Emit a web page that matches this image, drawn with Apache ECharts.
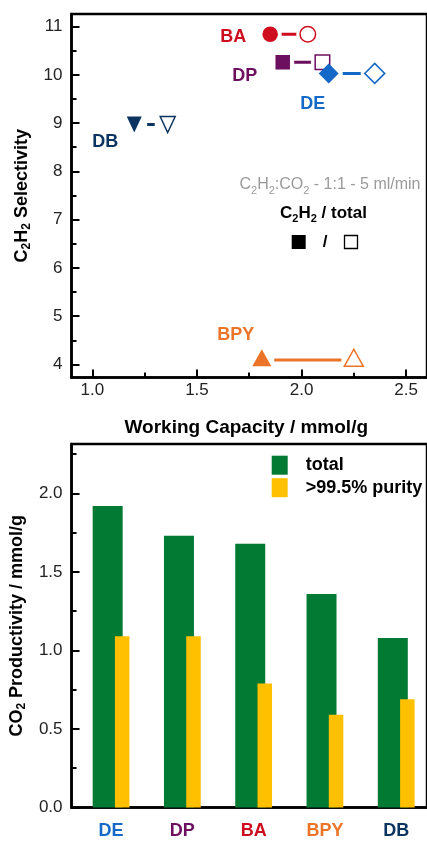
<!DOCTYPE html>
<html>
<head>
<meta charset="utf-8">
<script src="https://cdn.jsdelivr.net/npm/echarts@6/dist/echarts.min.js"></script>
<style>
  html, body { margin: 0; padding: 0; background: #fff; }
  #chart { width: 427px; height: 841px; }
</style>
</head>
<body>
<div id="chart"></div>
<script>
// ---- Top panel: C2H2 selectivity vs. working capacity ----
const materials = ['BA', 'DP', 'DE', 'DB', 'BPY'];
const capacityC2H2 = [1.85, 1.91, 2.13, 1.20, 1.81];
const capacityTotal = [2.03, 2.10, 2.35, 1.36, 2.25];
const selectivity = [10.84, 10.26, 10.03, 8.97, 4.09];
const capacityTicks = [1.0, 1.5, 2.0, 2.5];
const capacityMinorTicks = [1.25, 1.75, 2.25];
const selectivityTicks = [4, 5, 6, 7, 8, 9, 10, 11];
const selectivityMinorTicks = [4.5, 5.5, 6.5, 7.5, 8.5, 9.5, 10.5];

// ---- Bottom panel: CO2 productivity ----
const sorbents = ['DE', 'DP', 'BA', 'BPY', 'DB'];
const productivityTotal = [1.92, 1.73, 1.68, 1.36, 1.08];
const productivityPure = [1.09, 1.09, 0.79, 0.59, 0.69];
const productivityTicks = [0, 0.5, 1.0, 1.5, 2.0];
const productivityMinorTicks = [0.25, 0.75, 1.25, 1.75, 2.25];
const seriesNames = ['total', '>99.5% purity'];

const FONT = "'Liberation Sans', Arial, Helvetica, sans-serif";
const AXIS_W = 2.5;

const materialStyle = {
  BA:  { color: '#CE0E1F', symbol: 'circle',   size: 15.5,     halo: 23, label: [-37, 2.5] },
  DP:  { color: '#6C0F5F', symbol: 'rect',     size: 14.5,     halo: 23, label: [-38, 14] },
  DE:  { color: '#1469C8', symbol: 'diamond',  size: 20,       halo: 28, label: [-16, 31] },
  DB:  { color: '#0B3460', symbol: 'triangle', size: [15, 16], halo: 26, label: [-29, 17], rotate: 180 },
  BPY: { color: '#EC7428', symbol: 'triangle', size: [19, 17], halo: 25, label: [-26, -23], shift: [0, -2.4] }
};
const barColors = ['#037A33', '#FFC000'];

// rich-text helpers for subscripts
function richSub(size, weight, color, dy) {
  return {
    n: { fontFamily: FONT, fontSize: size, fontWeight: weight, color: color, fill: color, lineHeight: size + dy * 2 },
    s: { fontFamily: FONT, fontSize: Math.round(size * 0.66), fontWeight: weight, color: color, fill: color,
         lineHeight: Math.round(size * 0.66), verticalAlign: 'bottom' }
  };
}

const series = [];
materials.forEach((m, i) => {
  const st = materialStyle[m];
  const pts = [[capacityC2H2[i], selectivity[i]], [capacityTotal[i], selectivity[i]]];
  // connector
  series.push({
    type: 'line', xAxisIndex: 0, yAxisIndex: 0, data: pts, symbol: 'none',
    lineStyle: { color: st.color, width: 3 }, z: 2, silent: true
  });
  // white halo leaving a gap between connector and markers
  series.push({
    type: 'scatter', xAxisIndex: 0, yAxisIndex: 0, data: pts, symbol: 'circle',
    symbolSize: st.halo, itemStyle: { color: '#fff', opacity: 1 }, z: 3, silent: true
  });
  // filled (C2H2) and open (total) markers
  series.push({
    type: 'scatter', xAxisIndex: 0, yAxisIndex: 0, z: 4, silent: true,
    symbol: st.symbol, symbolSize: st.size, symbolRotate: st.rotate || 0, symbolOffset: st.shift || [0, 0],
    itemStyle: { opacity: 1 },
    data: [
      {
        value: pts[0], itemStyle: { color: st.color, opacity: 1 },
        label: {
          show: true, position: 'inside', offset: st.label, formatter: m,
          color: st.color, fontFamily: FONT, fontSize: 18, fontWeight: 'bold'
        }
      },
      { value: pts[1], itemStyle: { color: '#fff', borderColor: st.color, borderWidth: 1.5, opacity: 1 } }
    ]
  });
});

seriesNames.forEach((name, k) => {
  const vals = k === 0 ? productivityTotal : productivityPure;
  series.push({
    type: 'bar', name: name, xAxisIndex: 2, yAxisIndex: 2,
    data: sorbents.map((s, i) => [i + 1, vals[i]]),
    barWidth: k === 0 ? 30 : 14.5, barGap: '-25.7%',
    itemStyle: { color: barColors[k] }, z: 2, silent: true
  });
});

const tickLabelStyle = { fontFamily: FONT, fontSize: 17, color: '#222' };

function majorAxis(extra) {
  return Object.assign({
    type: 'value',
    axisLine: { show: true, onZero: false, lineStyle: { color: '#000', width: AXIS_W } },
    splitLine: { show: false },
    axisTick: { show: true, inside: true, length: 8, lineStyle: { color: '#000', width: 2 } }
  }, extra);
}
function minorAxis(extra, values) {
  return Object.assign({
    type: 'value', offset: 0,
    axisLine: { show: false, onZero: false },
    splitLine: { show: false },
    axisLabel: { show: false },
    axisTick: { show: true, inside: true, length: 5, customValues: values, lineStyle: { color: '#000', width: 2 } }
  }, extra);
}

const xRich = {};
sorbents.forEach((s, i) => {
  xRich['c' + i] = { color: materialStyle[s].color, fontFamily: FONT, fontSize: 18, fontWeight: 'bold' };
});

const option = {
  animation: false,
  backgroundColor: '#fff',
  grid: [
    { left: 71.5, top: 14, width: 361.6, height: 363.5, show: true, borderColor: '#000', borderWidth: AXIS_W },
    { left: 71.5, top: 444, width: 361.6, height: 363.5, show: true, borderColor: '#000', borderWidth: AXIS_W }
  ],
  xAxis: [
    majorAxis({
      gridIndex: 0, position: 'bottom', min: 0.9, max: 2.6,
      name: 'Working Capacity / mmol/g', nameLocation: 'middle', nameGap: 40,
      nameTextStyle: { fontFamily: FONT, fontSize: 19, fontWeight: 'bold', color: '#000', lineHeight: 20, padding: [0, 6, 0, 0] },
      axisTick: { show: true, inside: true, length: 8, customValues: capacityTicks, lineStyle: { color: '#000', width: 2 } },
      axisLabel: Object.assign({ customValues: capacityTicks, margin: 4, formatter: v => v.toFixed(1) }, tickLabelStyle)
    }),
    minorAxis({ gridIndex: 0, position: 'bottom', min: 0.9, max: 2.6 }, capacityMinorTicks),
    majorAxis({
      gridIndex: 1, position: 'bottom', min: 0.4455, max: 5.432,
      axisTick: { show: false },
      axisLabel: {
        customValues: [1, 2, 3, 4, 5], margin: 15,
        formatter: v => { const i = Math.round(v) - 1; return '{c' + i + '|' + sorbents[i] + '}'; },
        rich: xRich
      }
    })
  ],
  yAxis: [
    majorAxis({
      gridIndex: 0, position: 'left', min: 3.73, max: 11.26,
      name: '{n|C}{s|2}{n|H}{s|2}{n| Selectivity}', nameLocation: 'middle', nameGap: 35,
      nameTextStyle: { rich: richSub(18, 'bold', '#000', 2) },
      axisTick: { show: true, inside: true, length: 8, customValues: selectivityTicks, lineStyle: { color: '#000', width: 2 } },
      axisLabel: Object.assign({ customValues: selectivityTicks, margin: 9 }, tickLabelStyle)
    }),
    minorAxis({ gridIndex: 0, position: 'left', min: 3.73, max: 11.26 }, selectivityMinorTicks),
    majorAxis({
      gridIndex: 1, position: 'left', min: 0, max: 2.315,
      name: '{n|CO}{s|2}{n| Productivity / mmol/g}', nameLocation: 'middle', nameGap: 38,
      nameTextStyle: { rich: richSub(18, 'bold', '#000', 2) },
      axisTick: { show: true, inside: true, length: 8, customValues: productivityTicks, lineStyle: { color: '#000', width: 2 } },
      axisLabel: Object.assign({ customValues: productivityTicks, margin: 9, formatter: v => v.toFixed(1) }, tickLabelStyle)
    }),
    minorAxis({ gridIndex: 1, position: 'left', min: 0, max: 2.315 }, productivityMinorTicks)
  ],
  legend: {
    data: seriesNames, orient: 'vertical', left: 271.7, top: 455.7, padding: 0,
    itemWidth: 16, itemHeight: 19, itemGap: 3.5, icon: 'rect', selectedMode: false,
    textStyle: { fontFamily: FONT, fontSize: 18, fontWeight: 'bold', color: '#000', padding: [0, 0, 0, 13] }
  },
  graphic: [
    {
      type: 'text', x: 330, y: 185, silent: true,
      style: {
        text: '{n|C}{s|2}{n|H}{s|2}{n|:CO}{s|2}{n| - 1:1 - 5 ml/min}',
        rich: richSub(16, 'normal', '#9A9A9A', 3),
        align: 'center', verticalAlign: 'middle', textAlign: 'center', textVerticalAlign: 'middle'
      }
    },
    {
      type: 'text', x: 323.5, y: 213, silent: true,
      style: {
        text: '{n|C}{s|2}{n|H}{s|2}{n| / total}',
        rich: richSub(17, 'bold', '#000', 3),
        align: 'center', verticalAlign: 'middle', textAlign: 'center', textVerticalAlign: 'middle'
      }
    },
    { type: 'rect', silent: true, shape: { x: 291.7, y: 235, width: 14, height: 14 }, style: { fill: '#000' } },
    {
      type: 'text', x: 325, y: 242, silent: true,
      style: {
        text: '/', fill: '#000', font: 'bold 17px ' + FONT,
        align: 'center', verticalAlign: 'middle', textAlign: 'center', textVerticalAlign: 'middle'
      }
    },
    { type: 'rect', silent: true, shape: { x: 344.5, y: 235.5, width: 13, height: 13 }, style: { fill: '#fff', stroke: '#000', lineWidth: 1.3 } }
  ],
  series: series
};

const chart = echarts.init(document.getElementById('chart'), null, { renderer: 'canvas' });
chart.setOption(option);
</script>
</body>
</html>
